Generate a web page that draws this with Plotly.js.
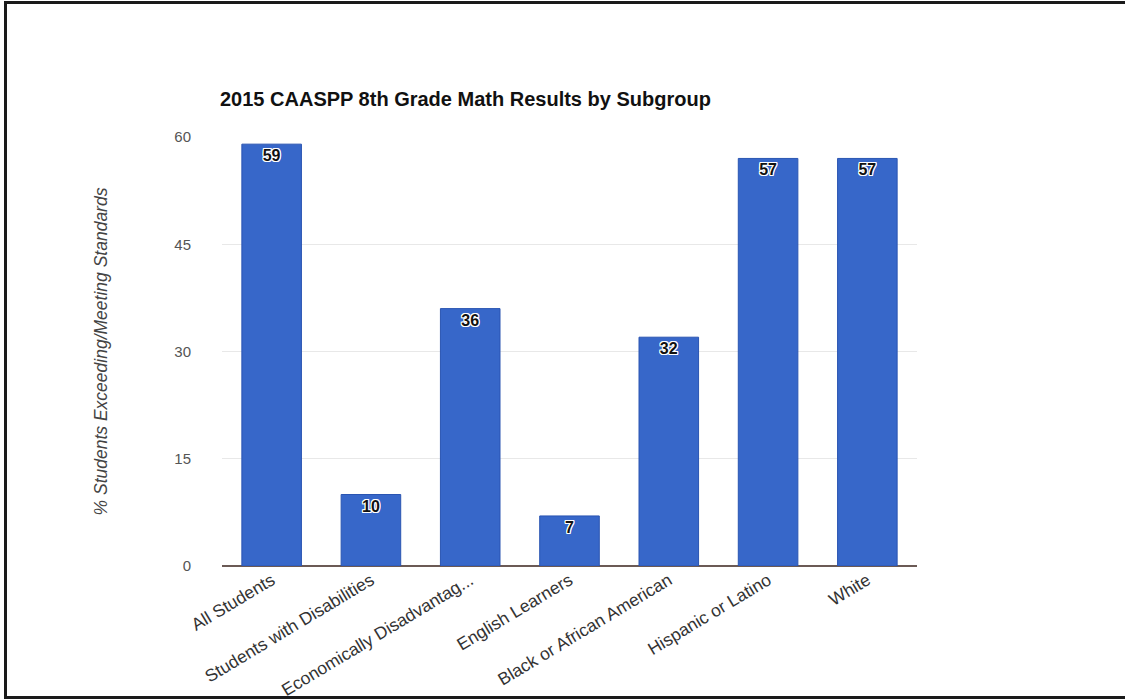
<!DOCTYPE html>
<html>
<head>
<meta charset="utf-8">
<script src="https://cdn.plot.ly/plotly-3.0.1.min.js"></script>
<style>
html,body{margin:0;padding:0;background:#fff;overflow:hidden;}
#wrap{position:relative;width:1125px;height:700px;overflow:hidden;}
#chart{width:1125px;height:700px;}
#frame{position:absolute;left:4px;top:1px;width:1130px;height:698px;border:3px solid #1a1a1a;border-right:none;pointer-events:none;box-sizing:border-box;}
</style>
</head>
<body>
<div id="wrap"><div id="chart"></div><div id="frame"></div></div>
<script>
var categories = ["All Students", "Students with Disabilities", "Economically Disadvantag...", "English Learners", "Black or African American", "Hispanic or Latino", "White"];
var values = [59, 10, 36, 7, 32, 57, 57];
var yTicks = [0, 15, 30, 45, 60];

var trace = {
  type: 'bar',
  x: categories,
  y: values,
  text: values.map(String),
  textposition: 'inside',
  insidetextanchor: 'end',
  textangle: 0,
  cliponaxis: false,
  textfont: {family: 'Liberation Sans, Arial, sans-serif', size: 16, color: '#111', weight: 'bold',
    shadow: '1px 1px 0 #fff, -1px -1px 0 #fff, 1px -1px 0 #fff, -1px 1px 0 #fff, 0 1px 0 #fff, 0 -1px 0 #fff, 1px 0 0 #fff, -1px 0 0 #fff'},
  marker: {color: '#3767c9', line: {color: '#2a55b2', width: 1}},
  width: 0.6,
  hoverinfo: 'x+y'
};

var layout = {
  width: 1125, height: 700,
  margin: {l: 222, r: 208, t: 137, b: 134},
  paper_bgcolor: '#fff', plot_bgcolor: '#fff',
  font: {family: 'Liberation Sans, Arial, sans-serif', color: '#444'},
  title: {text: '<b>2015 CAASPP 8th Grade Math Results by Subgroup</b>', x: 220/1125, xanchor: 'left', xref: 'container', y: 1 - 99/700, yref: 'container', yanchor: 'middle', font: {size: 20, color: '#111'}},
  showlegend: false,
  bargap: 0.4,
  xaxis: {
    type: 'category', range: [-0.5, 6.5], tickangle: -31, showgrid: false, ticks: '', zeroline: false,
    showline: false,
    tickfont: {size: 17.5, color: '#333'}, automargin: false
  },
  yaxis: {
    range: [0, 60], tickvals: yTicks, ticktext: yTicks.map(String),
    showgrid: true, gridcolor: '#e8e8e8', gridwidth: 1,
    zeroline: true, zerolinecolor: '#6b5a55', zerolinewidth: 2,
    ticks: '', ticklabelstandoff: 30,
    tickfont: {size: 15, color: '#555'},
    title: {text: '<i>% Students Exceeding/Meeting Standards</i>', standoff: 62, font: {size: 17.5, color: '#444'}},
    automargin: false
  }
};

Plotly.newPlot('chart', [trace], layout, {displayModeBar: false, staticPlot: true});
</script>
</body>
</html>
